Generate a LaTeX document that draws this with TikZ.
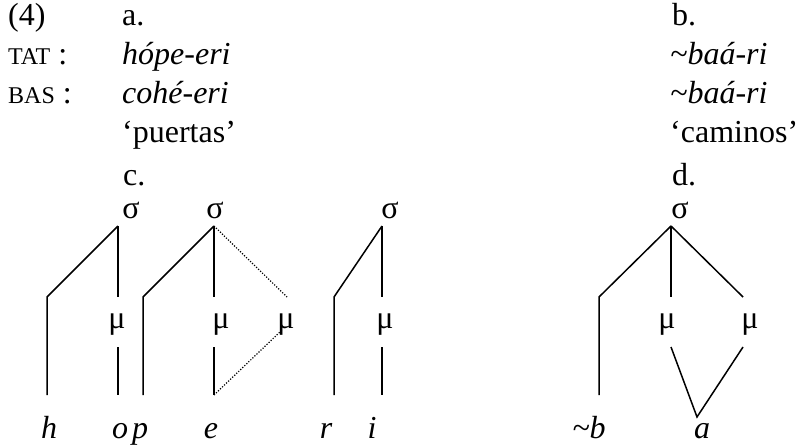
\documentclass[tikz,border=0pt]{standalone}
\usepackage{fontspec}
\setmainfont{Liberation Serif}
\begin{document}
\begin{tikzpicture}[x=1pt,y=-1pt,
  txt/.style={inner sep=0pt, anchor=base west, font=\fontsize{32}{38}\selectfont},
  lab/.style={inner sep=0pt, anchor=base, font=\fontsize{32}{38}\selectfont},
  seg/.style={inner sep=0pt, anchor=base, font=\fontsize{32}{38}\selectfont\itshape},
  assoc/.style={line width=1.5pt},
  weak/.style={line width=1.2pt, dash pattern=on 1.2pt off 1.6pt}]
\useasboundingbox (0,0) rectangle (799,447);

% header rows
\node[txt] (ex) at (8,25) {(4)};
\node[txt] (la) at (122,25) {a.};
\node[txt] (lb) at (672,25) {b.};
\node[txt] (tat) at (8,64) {{\fontsize{24}{24}\selectfont TAT} :};
\node[txt] (bas) at (8,103) {{\fontsize{24}{24}\selectfont BAS} :};
\node[txt] (ta) at (122,64) {\itshape hópe-eri};
\node[txt] (ba) at (122,103) {\itshape cohé-eri};
\node[txt] (glA) at (122,142) {‘puertas’};
\node[txt] (tb) at (670,64) {\itshape\textasciitilde baá-ri};
\node[txt] (bb) at (670,103) {\itshape\textasciitilde baá-ri};
\node[txt] (glB) at (670,142) {‘caminos’};
\node[txt] (lc) at (123,185) {c.};
\node[txt] (ld) at (672,185) {d.};

% syllable nodes
\node[lab] (s1) at (131,218) {σ};
\node[lab] (s2) at (215,218) {σ};
\node[lab] (s3) at (390,218) {σ};
\node[lab] (s4) at (680,218) {σ};

% mora nodes
\node[lab] (mu1) at (117,328) {μ};
\node[lab] (mu2) at (221,328) {μ};
\node[lab] (mu2x) at (286,328) {μ};
\node[lab] (mu3) at (385,328) {μ};
\node[lab] (mu4) at (667,328) {μ};
\node[lab] (mu4x) at (750,328) {μ};

% segments
\node[seg] (h) at (49,438) {h};
\node[seg] (o) at (120,438) {o};
\node[seg] (p) at (140,438) {p};
\node[seg] (e) at (211,438) {e};
\node[seg] (r) at (326,438) {r};
\node[seg] (i) at (372,438) {i};
\node[seg] (b) at (589,438) {\textasciitilde b};
\node[seg] (a) at (702,438) {a};

% tree c, first syllable
\coordinate (a1) at (118,226);
\coordinate (k1) at (47,297);
\coordinate (h1) at (47,395);
\coordinate (m1t) at (118,297);
\coordinate (m1b) at (118,347);
\coordinate (o1) at (118,395);
\draw[assoc] (a1) -- (k1) -- (h1);
\draw[assoc] (a1) -- (m1t);
\draw[assoc] (m1b) -- (o1);

% tree c, second syllable
\coordinate (a2) at (214,226);
\coordinate (k2) at (143,297);
\coordinate (p2) at (143,395);
\coordinate (m2t) at (214,297);
\coordinate (m2b) at (214,347);
\coordinate (e2) at (214,395);
\coordinate (x2t) at (287,297);
\coordinate (x2b) at (282,330);
\draw[assoc] (a2) -- (k2) -- (p2);
\draw[assoc] (a2) -- (m2t);
\draw[assoc] (m2b) -- (e2);
\draw[weak] (a2) -- (x2t);
\draw[weak] (e2) -- (x2b);

% tree c, third syllable
\coordinate (a3) at (382,226);
\coordinate (k3) at (334,297);
\coordinate (r3) at (334,395);
\coordinate (m3t) at (382,297);
\coordinate (m3b) at (382,347);
\coordinate (i3) at (382,395);
\draw[assoc] (a3) -- (k3) -- (r3);
\draw[assoc] (a3) -- (m3t);
\draw[assoc] (m3b) -- (i3);

% tree d
\coordinate (a4) at (671,226);
\coordinate (k4) at (599,297);
\coordinate (b4) at (599,395);
\coordinate (m4t) at (671,297);
\coordinate (n4t) at (743,297);
\coordinate (m4b) at (671,347);
\coordinate (n4b) at (743,347);
\coordinate (v4) at (697,417);
\draw[assoc] (a4) -- (k4) -- (b4);
\draw[assoc] (a4) -- (m4t);
\draw[assoc] (a4) -- (n4t);
\draw[assoc] (m4b) -- (v4) -- (n4b);
\end{tikzpicture}
\end{document}
